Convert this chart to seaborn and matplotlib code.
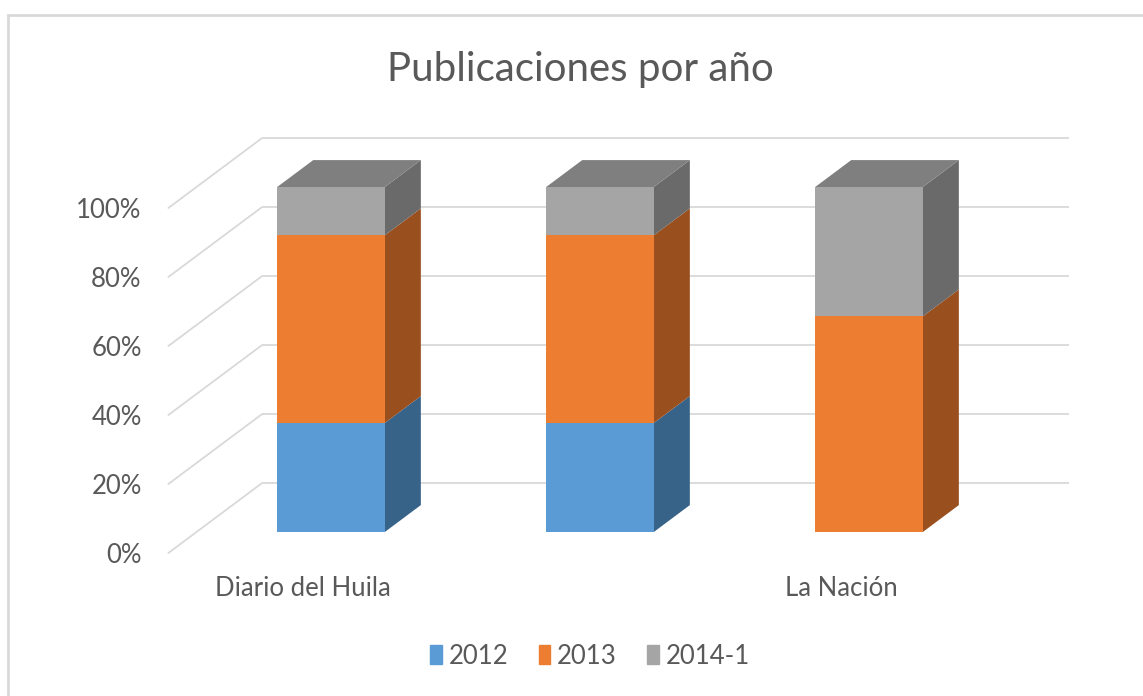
import matplotlib
matplotlib.use("Agg")
import matplotlib.pyplot as plt
import matplotlib.patches as mpatches
import pandas as pd
import seaborn as sns

# data (percent of publications per newspaper)
categories = ["Diario del Huila", "", "La Nación"]
series_names = ["2012", "2013", "2014-1"]
pct_2012 = [31.6, 31.6, 0.0]
pct_2013 = [54.4, 54.4, 62.5]
pct_2014 = [14.0, 14.0, 37.5]
tick_values = [0, 20, 40, 60, 80, 100]
tick_labels = ["0%", "20%", "40%", "60%", "80%", "100%"]

front_colors = ["#5B9BD5", "#ED7D31", "#A5A5A5"]
side_colors = ["#386389", "#9A4F1E", "#6A6A6A"]
top_color = "#7F7F7F"
text_color = "#595959"
grid_color = "#D9D9D9"

# fake-3D depth step (one bar depth) in data units
DX, DY = 0.134, 7.8
D_FRONT, D_BACK = -0.78, 1.81

sns.set_theme(style="white")
plt.rcParams["font.family"] = ["Lato", "DejaVu Sans"]

fig = plt.figure(figsize=(11.43, 6.96), dpi=100)
W, H = 1143, 696
ax_l, ax_r, ax_t, ax_b = 150, 1100, 120, 575
ax = fig.add_axes([ax_l / W, (H - ax_b) / H, (ax_r - ax_l) / W, (ax_b - ax_t) / H])

df = pd.DataFrame({"medio": categories, "2012": pct_2012,
                   "2013": pct_2013, "2014-1": pct_2014})

bottoms = [0.0] * len(categories)
segments = []
for name, fc in zip(series_names, front_colors):
    n_before = len(ax.patches)
    sns.barplot(data=df, x="medio", y=name, color=fc, width=0.4,
                bottom=list(bottoms), saturation=1, linewidth=0, ax=ax, zorder=3)
    segments.append(ax.patches[n_before:])
    bottoms = [b + v for b, v in zip(bottoms, df[name])]

# pixel mapping: x_px = 331 + 269*x ; y_px = 532 - 3.45*y
ax.set_xlim((ax_l - 331) / 269, (ax_r - 331) / 269)
ax.set_ylim((532 - ax_b) / 3.45, (532 - ax_t) / 3.45)

# back wall grid + side wall diagonals
x_left, x_right = -0.5, 2.5
for v in tick_values:
    yb = v + D_BACK * DY
    ax.plot([x_left + D_BACK * DX, x_right + D_BACK * DX], [yb, yb],
            color=grid_color, lw=1.3, zorder=0, solid_capstyle="butt")
    ax.plot([x_left + D_FRONT * DX, x_left + D_BACK * DX],
            [v + D_FRONT * DY, yb], color=grid_color, lw=1.3, zorder=0)

# side and top faces, built from the drawn bars
for s, bars in enumerate(segments):
    for i, bar in enumerate(bars):
        x0, w = bar.get_x(), bar.get_width()
        b, h = bar.get_y(), bar.get_height()
        if h <= 0:
            continue
        x1, t = x0 + w, b + h
        ax.add_patch(mpatches.Polygon(
            [(x1, b), (x1 + DX, b + DY), (x1 + DX, t + DY), (x1, t)],
            closed=True, facecolor=side_colors[s], edgecolor="none", zorder=2))
        if abs(t - bottoms[i]) < 1e-6:
            ax.add_patch(mpatches.Polygon(
                [(x0, t), (x0 + DX, t + DY), (x1 + DX, t + DY), (x1, t)],
                closed=True, facecolor=top_color, edgecolor="none", zorder=2))

# axis labels on the front plane
ax.set_xticks([i + D_FRONT * DX for i in range(len(categories))])
ax.set_xticklabels(categories, fontsize=18.5, color=text_color)
ax.set_yticks([v + D_FRONT * DY for v in tick_values])
ax.set_yticklabels(tick_labels, fontsize=18.5, color=text_color)
ax.tick_params(axis="x", length=0, pad=1)
ax.tick_params(axis="y", length=0, pad=6)
ax.set_xlabel("")
ax.set_ylabel("")
sns.despine(ax=ax, left=True, bottom=True)

fig.text(580 / W, 1 - 70 / H, "Publicaciones por año", ha="center", va="center",
         fontsize=29, color=text_color)

handles = [mpatches.Patch(color=c, label=n) for c, n in zip(front_colors, series_names)]
fig.legend(handles=handles, loc="center", bbox_to_anchor=(590 / W, 1 - 656 / H),
           ncol=3, frameon=False, fontsize=18.5, handlelength=0.45, handleheight=0.75,
           handletextpad=0.25, columnspacing=1.2, labelcolor=text_color)

# chart area border
fig.add_artist(mpatches.Rectangle((8 / W, -0.1), 1.2, 1 - 15 / H + 0.1,
                                  transform=fig.transFigure, fill=False,
                                  edgecolor="#D9D9D9", lw=2))

fig.savefig("out.png", dpi=100, facecolor="white")
